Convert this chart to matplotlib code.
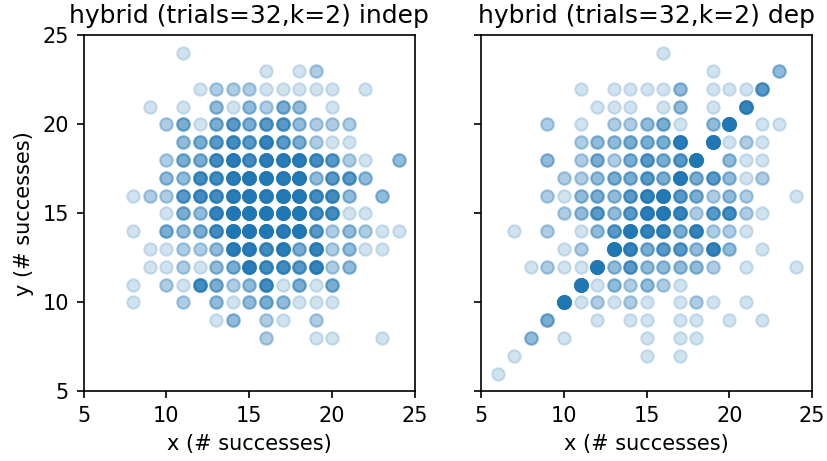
import numpy as np
import matplotlib
matplotlib.use("Agg")
import matplotlib.pyplot as plt

# counts per (x, y) cell, one row of y at a time
indep_x = [11,
           16, 18, 19,
           12, 13, 14, 15, 16, 17, 18, 19, 20, 22,
           9, 11, 13, 14, 15, 16, 17, 18, 20,
           10, 11, 12, 13, 14, 15, 16, 17, 18, 19, 20, 21,
           11, 12, 13, 14, 15, 16, 17, 18, 19, 20, 21,
           10, 11, 12, 13, 14, 15, 16, 17, 18, 19, 20, 21, 22, 24,
           10, 11, 12, 13, 14, 15, 16, 17, 18, 19, 20, 21, 22,
           8, 9, 10, 11, 12, 13, 14, 15, 16, 17, 18, 19, 20, 21, 23,
           10, 11, 12, 13, 14, 15, 16, 17, 18, 19, 20, 21, 22,
           8, 10, 11, 12, 13, 14, 15, 16, 17, 18, 19, 20, 21, 22, 23, 24,
           9, 10, 11, 12, 13, 14, 15, 16, 17, 18, 19, 20, 21, 22, 23,
           9, 10, 11, 12, 13, 14, 15, 16, 17, 18, 19, 20, 21,
           8, 10, 11, 12, 13, 14, 15, 16, 17, 18, 19, 20,
           8, 11, 13, 14, 15, 16, 17, 18, 19, 20,
           13, 14, 16, 17, 19,
           16, 19, 20, 23]
indep_y = ([24] * 1 + [23] * 3 + [22] * 10 + [21] * 9 + [20] * 12 + [19] * 11
           + [18] * 14 + [17] * 13 + [16] * 15 + [15] * 13 + [14] * 16
           + [13] * 15 + [12] * 13 + [11] * 12 + [10] * 10 + [9] * 5 + [8] * 4)
indep_n = [1,
           1, 1, 2,
           1, 2, 2, 2, 1, 1, 1, 1, 1, 1,
           1, 1, 3, 1, 3, 2, 4, 3, 1,
           2, 4, 1, 4, 6, 4, 6, 6, 3, 2, 2, 2,
           3, 4, 6, 8, 6, 10, 6, 4, 2, 1, 1,
           2, 4, 4, 8, 13, 8, 13, 13, 13, 8, 6, 2, 1, 3,
           3, 3, 8, 8, 13, 16, 16, 13, 16, 3, 6, 6, 3,
           1, 2, 2, 6, 8, 8, 13, 16, 13, 16, 16, 8, 8, 3, 3,
           1, 4, 3, 10, 20, 20, 20, 20, 20, 8, 8, 1, 1,
           1, 4, 3, 4, 8, 20, 20, 20, 13, 20, 6, 2, 3, 2, 1, 1,
           1, 1, 2, 2, 3, 13, 13, 8, 13, 4, 10, 2, 3, 1, 1,
           1, 1, 2, 1, 3, 4, 13, 8, 8, 6, 10, 2, 3,
           1, 2, 1, 8, 4, 2, 3, 8, 1, 4, 1, 4,
           1, 2, 3, 1, 3, 4, 3, 1, 1, 1,
           1, 3, 2, 1, 2,
           2, 1, 1, 1]

dep_x = [16,
         19, 23,
         11, 13, 14, 15, 16, 17, 19, 20, 21, 22,
         12, 13, 14, 16, 17, 19, 21,
         9, 11, 13, 14, 15, 16, 17, 19, 20, 22, 23,
         11, 12, 13, 14, 15, 16, 17, 19, 20, 21, 22,
         9, 11, 12, 13, 14, 15, 16, 17, 18, 20, 21, 22,
         10, 11, 12, 13, 14, 15, 16, 17, 18, 19, 20, 21, 22,
         9, 10, 11, 12, 13, 14, 15, 16, 17, 18, 19, 20, 21, 24,
         10, 11, 12, 13, 14, 15, 16, 17, 18, 19, 20, 21, 22,
         7, 9, 11, 12, 13, 14, 15, 16, 17, 18, 19, 20, 21,
         10, 11, 13, 14, 15, 16, 17, 18, 19, 20, 22,
         8, 9, 10, 11, 12, 13, 14, 15, 16, 17, 18, 19, 21, 24,
         11, 12, 13, 14, 15, 16, 17,
         10, 11, 12, 13, 14, 15, 17, 18, 19, 21,
         9, 12, 14, 15, 17, 18, 20, 22,
         8, 10, 15, 17, 18,
         7, 15, 17,
         6]
dep_y = ([24] * 1 + [23] * 2 + [22] * 10 + [21] * 7 + [20] * 11 + [19] * 11
         + [18] * 12 + [17] * 13 + [16] * 14 + [15] * 13 + [14] * 13
         + [13] * 11 + [12] * 14 + [11] * 7 + [10] * 10 + [9] * 8 + [8] * 5
         + [7] * 3 + [6] * 1)
dep_n = [1,
         1, 3,
         1, 1, 1, 1, 1, 3, 1, 1, 1, 6,
         1, 1, 1, 1, 3, 1, 10,
         2, 1, 2, 2, 3, 4, 1, 3, 20, 1, 1,
         2, 3, 3, 4, 4, 4, 13, 20, 1, 2, 1,
         3, 2, 4, 2, 4, 6, 4, 6, 20, 3, 1, 1,
         2, 2, 3, 4, 4, 6, 4, 16, 4, 6, 3, 1, 2,
         2, 1, 3, 4, 3, 6, 10, 16, 6, 4, 2, 3, 2, 1,
         2, 3, 6, 3, 6, 13, 16, 10, 2, 6, 8, 2, 1,
         1, 2, 1, 3, 6, 16, 10, 10, 4, 10, 2, 2, 1,
         1, 2, 20, 10, 4, 6, 6, 3, 10, 3, 1,
         1, 2, 1, 1, 20, 3, 6, 3, 3, 3, 3, 2, 1, 1,
         20, 1, 3, 2, 3, 2, 1,
         20, 1, 2, 1, 2, 1, 1, 2, 1, 1,
         4, 1, 1, 1, 1, 1, 1, 1,
         3, 1, 1, 1, 1,
         1, 1, 1,
         1]

titles = ["hybrid (trials=32,k=2) indep", "hybrid (trials=32,k=2) dep"]

fig = plt.figure(figsize=(827 / 150, 461 / 150), dpi=150)
ax1 = fig.add_axes([0.101, 0.151, 0.401, 0.772])
ax2 = fig.add_axes([0.582, 0.151, 0.400, 0.772], sharey=ax1)

for ax, xs, ys, ns, title in [(ax1, indep_x, indep_y, indep_n, titles[0]),
                              (ax2, dep_x, dep_y, dep_n, titles[1])]:
    # each observation is drawn once, overlaps build up the darkness
    px = np.repeat(xs, ns)
    py = np.repeat(ys, ns)
    ax.scatter(px, py, alpha=0.2, color="C0")
    ax.set_xlim(5, 25)
    ax.set_ylim(5, 25)
    ax.set_xticks([5, 10, 15, 20, 25])
    ax.set_yticks([5, 10, 15, 20, 25])
    ax.set_title(title)
    ax.set_xlabel("x (# successes)")

ax1.set_ylabel("y (# successes)")
plt.setp(ax2.get_yticklabels(), visible=False)

fig.savefig("out.png", dpi=150)
